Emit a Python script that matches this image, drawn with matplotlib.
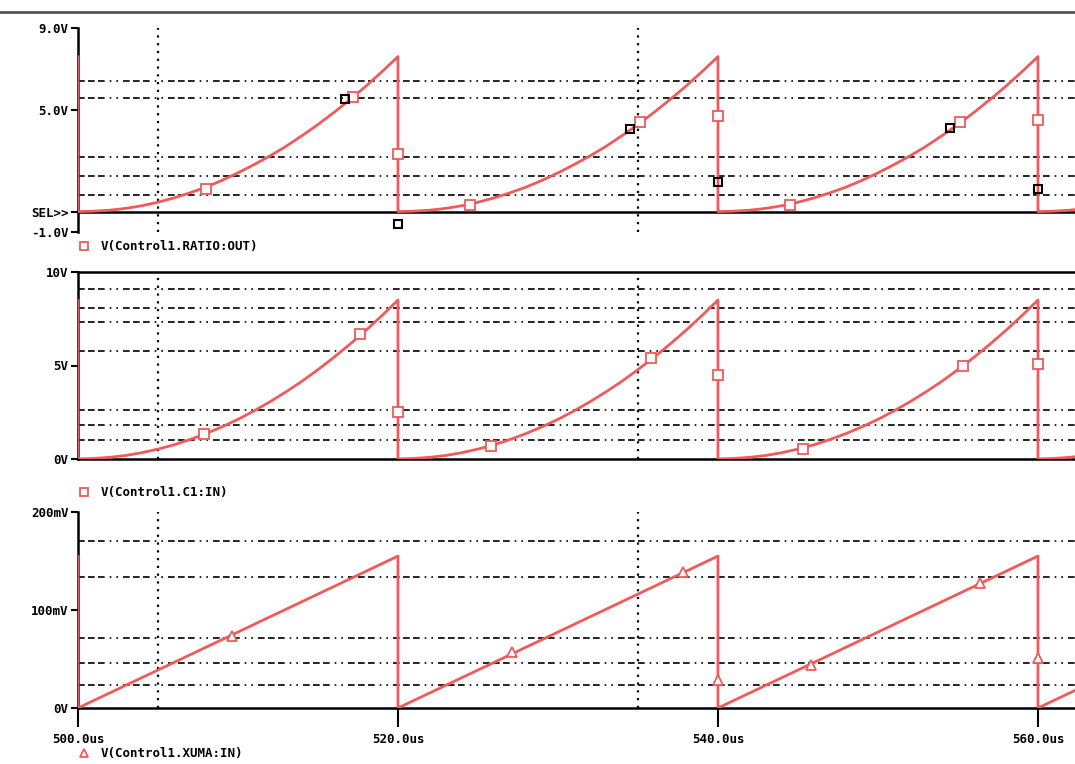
import matplotlib.pyplot as plt
import numpy as np
from matplotlib.lines import Line2D

RED = "#ef5a5a"
FONT = dict(family="DejaVu Sans Mono", weight="bold", size=9)

# one sawtooth period, sampled every 1 us (phase within the 20 us cycle)
cycle_starts = [480, 500, 520, 540, 560]
phase_us = list(range(0, 21))
ratio_out_v = [0.0, 0.02, 0.07, 0.16, 0.29, 0.46, 0.67, 0.92, 1.2, 1.53, 1.9,
               2.3, 2.73, 3.2, 3.72, 4.27, 4.86, 5.49, 6.15, 6.86, 7.6]
c1_in_v = [0.0, 0.03, 0.09, 0.19, 0.34, 0.53, 0.76, 1.04, 1.36, 1.72, 2.12,
           2.57, 3.06, 3.59, 4.16, 4.78, 5.44, 6.14, 6.88, 7.67, 8.5]
xuma_in_mv = [0, 7.75, 15.5, 23.25, 31, 38.75, 46.5, 54.25, 62, 69.75, 77.5,
              85.25, 93, 100.75, 108.5, 116.25, 124, 131.75, 139.5, 147.25, 155]

# trace markers (time us, value)
ratio_mark_t = [508.0, 517.2, 520.0, 524.5, 535.1, 540.0, 544.5, 555.1, 560.0]
ratio_mark_v = [1.1, 5.6, 2.8, 0.3, 4.4, 4.7, 0.3, 4.4, 4.5]
c1_mark_t = [507.9, 517.6, 520.0, 525.8, 535.8, 540.0, 545.3, 555.3, 560.0]
c1_mark_v = [1.34, 6.7, 2.5, 0.7, 5.4, 4.5, 0.53, 5.0, 5.1]
xuma_mark_t = [509.6, 527.1, 537.8, 545.8, 556.4, 540.0, 560.0]
xuma_mark_mv = [73, 57, 139, 44, 128, 29, 51]

# black cursor symbols on the top plot
cursor_t = [516.7, 534.5, 540.0, 520.0, 554.5, 560.0]
cursor_v = [5.5, 4.05, 1.46, -0.6, 4.1, 1.1]

# dash-dot reference lines and dotted verticals
ratio_hlines = [6.42, 5.55, 2.68, 1.75, 0.83]
c1_hlines = [9.1, 8.1, 7.3, 5.8, 2.6, 1.8, 1.0]
xuma_hlines = [170, 134, 71, 46, 23]
vlines_us = [505, 535]

x_ticks = [500, 520, 540, 560]
x_labels = ["500.0us", "520.0us", "540.0us", "560.0us"]


def build_trace(profile):
    t, v = [], []
    for start in cycle_starts:
        t.extend(start + p for p in phase_us)
        v.extend(profile)
    return np.array(t), np.array(v)


W, H = 1075, 764
fig = plt.figure(figsize=(W / 100, H / 100), dpi=100)


def px_axes(top, bottom, left=78, right=W):
    return fig.add_axes([left / W, 1 - bottom / H, (right - left) / W, (bottom - top) / H])


xmax = 500 + (W - 78) / 16.0
DASHDOT = (0, (4, 2, 4, 2, 4, 3, 1, 3, 1, 3))


def style_axes(ax, hlines, yticks, ylabels):
    ax.set_xlim(500, xmax)
    for sp in ax.spines.values():
        sp.set_visible(False)
    ax.spines["left"].set_visible(True)
    ax.spines["left"].set_linewidth(1.8)
    ax.set_yticks(yticks)
    ax.set_yticklabels(ylabels, **FONT)
    ax.tick_params(axis="y", length=5, width=1.5, pad=2)
    ax.set_xticks(x_ticks)
    ax.set_xticklabels([])
    ax.tick_params(axis="x", length=0)
    for y in hlines:
        ax.axhline(y, color="black", lw=1.2, linestyle=DASHDOT, zorder=1)
    for x in vlines_us:
        ax.axvline(x, color="black", lw=1.6, linestyle=(0, (1, 2.5)), zorder=1)


# top: V(Control1.RATIO:OUT)
ax1 = px_axes(28, 232)
t, v = build_trace(ratio_out_v)
ax1.set_ylim(-1, 9)
style_axes(ax1, ratio_hlines, [-1, 0, 5, 9], ["-1.0V", "SEL>>", "5.0V", "9.0V"])
ax1.axhline(0, color="black", lw=1.8, zorder=2)
ax1.plot(t, v, color=RED, lw=2, zorder=3)
ax1.plot(ratio_mark_t, ratio_mark_v, ls="none", marker="s", ms=7, mfc="white",
         mec=RED, mew=1.3, zorder=4)
ax1.plot(cursor_t, cursor_v, ls="none", marker="s", ms=6, mfc="none",
         mec="black", mew=1.5, zorder=4)

# middle: V(Control1.C1:IN)
ax2 = px_axes(272, 459)
t, v = build_trace(c1_in_v)
ax2.set_ylim(0, 10)
style_axes(ax2, c1_hlines, [0, 5, 10], ["0V", "5V", "10V"])
ax2.spines["top"].set_visible(True)
ax2.spines["bottom"].set_visible(True)
ax2.spines["top"].set_linewidth(1.8)
ax2.spines["bottom"].set_linewidth(1.8)
ax2.plot(t, v, color=RED, lw=2, zorder=3)
ax2.plot(c1_mark_t, c1_mark_v, ls="none", marker="s", ms=7, mfc="white",
         mec=RED, mew=1.3, zorder=4)

# bottom: V(Control1.XUMA:IN)
ax3 = px_axes(512, 708)
t, v = build_trace(xuma_in_mv)
ax3.set_ylim(0, 200)
style_axes(ax3, xuma_hlines, [0, 100, 200], ["0V", "100mV", "200mV"])
ax3.spines["bottom"].set_visible(True)
ax3.spines["bottom"].set_linewidth(1.8)
ax3.plot(t, v, color=RED, lw=2, zorder=3)
ax3.plot(xuma_mark_t, xuma_mark_mv, ls="none", marker="^", ms=7, mfc="white",
         mec=RED, mew=1.3, zorder=4)
ax3.set_xticklabels(x_labels, **FONT)
ax3.tick_params(axis="x", length=14, width=1.5, pad=4)

# legends under each plot
legend_specs = [
    (ax1, "s", "V(Control1.RATIO:OUT)", 240),
    (ax2, "s", "V(Control1.C1:IN)", 486),
    (ax3, "^", "V(Control1.XUMA:IN)", 747),
]
for ax, mk, label, ytop in legend_specs:
    handle = Line2D([], [], ls="none", marker=mk, ms=6, mfc="white", mec=RED, mew=1.3)
    ax.legend([handle], [label], loc="upper left", bbox_to_anchor=(78 / W, 1 - ytop / H),
              bbox_transform=fig.transFigure, frameon=False, borderpad=0,
              borderaxespad=0, handlelength=1, handletextpad=0.8,
              prop=dict(family="DejaVu Sans Mono", weight="bold", size=9))

# window border line across the top
fig.add_artist(Line2D([0, 1], [1 - 12 / H] * 2, transform=fig.transFigure,
                      color="#555555", lw=2))

fig.savefig("out.png", dpi=100)
